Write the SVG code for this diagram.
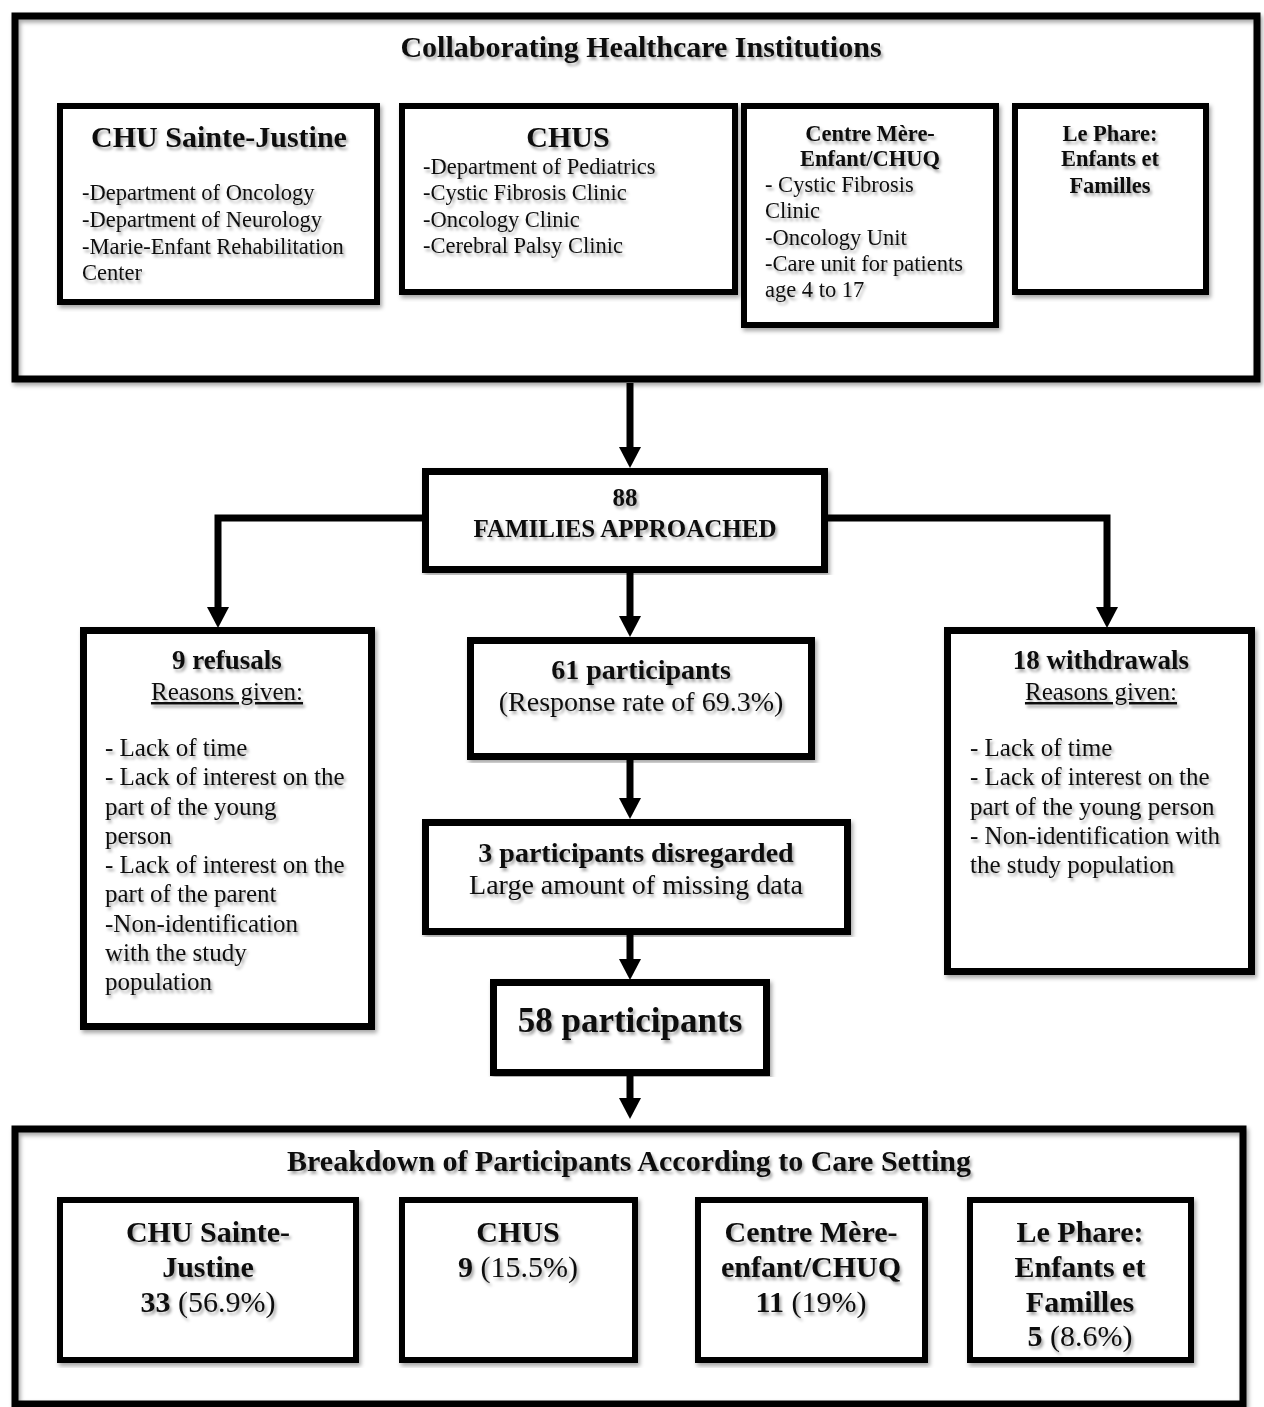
<svg xmlns="http://www.w3.org/2000/svg" width="1264" height="1407" viewBox="0 0 1264 1407">
<defs>
<filter id="ts" x="-10%" y="-30%" width="120%" height="170%">
<feDropShadow dx="2" dy="3" stdDeviation="1.6" flood-color="#000" flood-opacity="0.35"/>
</filter>
<filter id="bs" x="-5%" y="-5%" width="110%" height="110%">
<feDropShadow dx="2" dy="3" stdDeviation="2" flood-color="#000" flood-opacity="0.35"/>
</filter>
<marker id="ah" markerUnits="userSpaceOnUse" markerWidth="22" markerHeight="22" refX="0" refY="11" orient="auto">
<path d="M0,0 L21,11 L0,22 Z" fill="#000"/>
</marker>
<style>
.ob{fill:none;stroke:#000;stroke-width:7;filter:url(#bs)}
.ib{fill:#fff;stroke:#000;stroke-width:6;filter:url(#bs)}
.nb{fill:#fff;stroke:#000;stroke-width:7;filter:url(#bs)}
text{font-family:"Liberation Serif","Times New Roman",serif;fill:#111;filter:url(#ts)}
.b{font-weight:bold}
.c{text-anchor:middle}
.t30{font-size:30px}
.t22{font-size:22.5px}
.t25{font-size:25px}
.t27{font-size:27px}
.t28{font-size:28px}
.t35{font-size:35px}
.u{text-decoration:underline}
.con{fill:none;stroke:#000;stroke-width:7;marker-end:url(#ah)}
</style>
</defs>
<rect width="1264" height="1407" fill="#fff"/>

<g id="institutions">
<rect class="ob" x="15" y="16" width="1242" height="363"/>
<text class="b c t30" x="641" y="57">Collaborating Healthcare Institutions</text>
<g id="inst-chu-sainte-justine">
<rect class="ib" x="60" y="106" width="317" height="196"/>
<text class="b c t30" x="219" y="147">CHU Sainte-Justine</text>
<text class="t22" x="82" y="200">-Department of Oncology</text>
<text class="t22" x="82" y="227">-Department of Neurology</text>
<text class="t22" x="82" y="254">-Marie-Enfant Rehabilitation</text>
<text class="t22" x="82" y="280">Center</text>
</g>
<g id="inst-chus">
<rect class="ib" x="402" y="106" width="333" height="186"/>
<text class="b c t30" x="568" y="147">CHUS</text>
<text class="t22" x="423" y="174">-Department of Pediatrics</text>
<text class="t22" x="423" y="200">-Cystic Fibrosis Clinic</text>
<text class="t22" x="423" y="227">-Oncology Clinic</text>
<text class="t22" x="423" y="253">-Cerebral Palsy Clinic</text>
</g>
<g id="inst-centre-mere-enfant">
<rect class="ib" x="744" y="106" width="252" height="219"/>
<text class="b c t22" x="870" y="141">Centre Mère-</text>
<text class="b c t22" x="870" y="166">Enfant/CHUQ</text>
<text class="t22" x="765" y="192">- Cystic Fibrosis</text>
<text class="t22" x="765" y="218">Clinic</text>
<text class="t22" x="765" y="245">-Oncology Unit</text>
<text class="t22" x="765" y="271">-Care unit for patients</text>
<text class="t22" x="765" y="297">age 4 to 17</text>
</g>
<g id="inst-le-phare">
<rect class="ib" x="1015" y="106" width="191" height="186"/>
<text class="b c t22" x="1110" y="141">Le Phare:</text>
<text class="b c t22" x="1110" y="166">Enfants et</text>
<text class="b c t22" x="1110" y="193">Familles</text>
</g>
</g>

<g id="connectors">
<path class="con" d="M630,383 V447"/>
<path class="con" d="M422,518 H218 V607"/>
<path class="con" d="M828,518 H1107 V607"/>
<path class="con" d="M630,573 V616"/>
<path class="con" d="M630,760 V798"/>
<path class="con" d="M630,935 V959"/>
<path class="con" d="M630,1076 V1098"/>
</g>

<g id="families">
<rect class="nb" x="425.5" y="471.5" width="399" height="98"/>
<text class="b c t25" x="625" y="506">88</text>
<text class="b c t25" x="625" y="537">FAMILIES APPROACHED</text>
</g>

<g id="refusals">
<rect class="nb" x="83.5" y="630.5" width="288" height="396"/>
<text class="b c t27" x="227" y="669">9 refusals</text>
<text class="c t25 u" x="227" y="700">Reasons given:</text>
<text class="t25" x="105" y="756">- Lack of time</text>
<text class="t25" x="105" y="785">- Lack of interest on the</text>
<text class="t25" x="105" y="815">part of the young</text>
<text class="t25" x="105" y="844">person</text>
<text class="t25" x="105" y="873">- Lack of interest on the</text>
<text class="t25" x="105" y="902">part of the parent</text>
<text class="t25" x="105" y="932">-Non-identification</text>
<text class="t25" x="105" y="961">with the study</text>
<text class="t25" x="105" y="990">population</text>
</g>

<g id="participants-61">
<rect class="nb" x="470.5" y="640.5" width="341" height="116"/>
<text class="b c t28" x="641" y="679">61 participants</text>
<text class="c t28" x="641" y="711">(Response rate of 69.3%)</text>
</g>

<g id="withdrawals">
<rect class="nb" x="947.5" y="630.5" width="304" height="341"/>
<text class="b c t27" x="1101" y="669">18 withdrawals</text>
<text class="c t25 u" x="1101" y="700">Reasons given:</text>
<text class="t25" x="970" y="756">- Lack of time</text>
<text class="t25" x="970" y="785">- Lack of interest on the</text>
<text class="t25" x="970" y="815">part of the young person</text>
<text class="t25" x="970" y="844">- Non-identification with</text>
<text class="t25" x="970" y="873">the study population</text>
</g>

<g id="disregarded">
<rect class="nb" x="425.5" y="822.5" width="422" height="109"/>
<text class="b c t28" x="636" y="862">3 participants disregarded</text>
<text class="c t28" x="636" y="894">Large amount of missing data</text>
</g>

<g id="participants-58">
<rect class="nb" x="493.5" y="982.5" width="273" height="90"/>
<text class="b c t35" x="630" y="1032">58 participants</text>
</g>

<g id="breakdown">
<rect class="ob" x="15" y="1129" width="1228" height="275"/>
<text class="b c t30" x="629" y="1171">Breakdown of Participants According to Care Setting</text>
<g id="bd-chu-sainte-justine">
<rect class="ib" x="60" y="1200" width="296" height="160"/>
<text class="b c t30" x="208" y="1242">CHU Sainte-</text>
<text class="b c t30" x="208" y="1277">Justine</text>
<text class="c t30" x="208" y="1312"><tspan class="b">33</tspan> (56.9%)</text>
</g>
<g id="bd-chus">
<rect class="ib" x="402" y="1200" width="233" height="160"/>
<text class="b c t30" x="518" y="1242">CHUS</text>
<text class="c t30" x="518" y="1277"><tspan class="b">9</tspan> (15.5%)</text>
</g>
<g id="bd-centre-mere-enfant">
<rect class="ib" x="698" y="1200" width="227" height="160"/>
<text class="b c t30" x="811" y="1242">Centre Mère-</text>
<text class="b c t30" x="811" y="1277">enfant/CHUQ</text>
<text class="c t30" x="811" y="1312"><tspan class="b">11</tspan> (19%)</text>
</g>
<g id="bd-le-phare">
<rect class="ib" x="970" y="1200" width="221" height="160"/>
<text class="b c t30" x="1080" y="1242">Le Phare:</text>
<text class="b c t30" x="1080" y="1277">Enfants et</text>
<text class="b c t30" x="1080" y="1312">Familles</text>
<text class="c t30" x="1080" y="1346"><tspan class="b">5</tspan> (8.6%)</text>
</g>
</g>
</svg>
